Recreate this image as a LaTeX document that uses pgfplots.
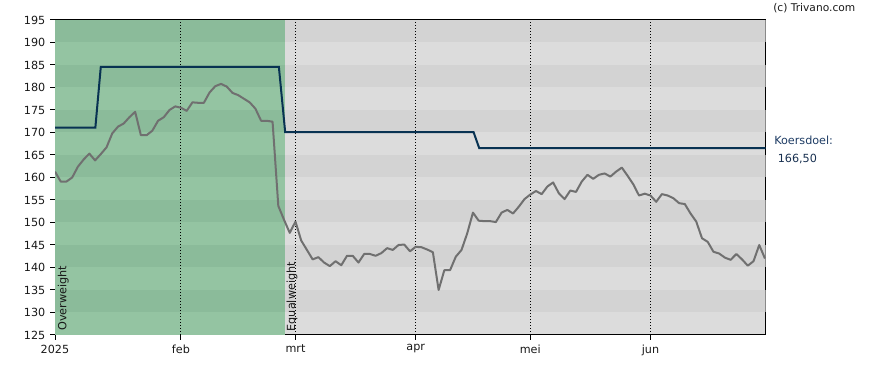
\documentclass[border=0pt]{standalone}
\usepackage{pgfplots}
\pgfplotsset{compat=1.18}
\usepackage{fontspec}
\setmainfont{DejaVu Sans}
\definecolor{gdark}{RGB}{139,187,154}
\definecolor{glight}{RGB}{148,196,162}
\definecolor{sdark}{RGB}{211,211,211}
\definecolor{slight}{RGB}{220,220,220}
\definecolor{navy}{RGB}{8,50,82}
\definecolor{pricec}{RGB}{112,112,112}
\definecolor{kd}{RGB}{30,60,100}
\pgfplotstableread{
d v
0 161.3
1 159.1
2 159.1
3 160.0
4 162.4
5 164.0
6 165.3
7 163.8
8 165.2
9 166.7
10 169.8
11 171.3
12 172.0
13 173.4
14 174.6
15 169.4
16 169.4
17 170.4
18 172.6
19 173.4
20 175.0
21 175.8
22 175.5
23 174.8
24 176.7
25 176.6
26 176.6
27 178.9
28 180.3
29 180.8
30 180.2
31 178.8
32 178.3
33 177.5
34 176.7
35 175.3
36 172.6
37 172.6
38 172.4
39 153.7
40 150.6
41 147.7
42 150.2
43 146.0
44 143.9
45 141.8
46 142.3
47 141.1
48 140.3
49 141.4
50 140.5
51 142.6
52 142.6
53 141.1
54 143.0
55 143.0
56 142.6
57 143.2
58 144.3
59 143.9
60 145.0
61 145.1
62 143.6
63 144.6
64 144.5
65 144.0
66 143.4
67 135.0
68 139.4
69 139.4
70 142.4
71 143.9
72 147.6
73 152.2
74 150.4
75 150.3
76 150.3
77 150.1
78 152.2
79 152.8
80 152.0
81 153.5
82 155.2
83 156.2
84 157.0
85 156.3
86 158.0
87 158.9
88 156.5
89 155.2
90 157.1
91 156.8
92 159.1
93 160.6
94 159.7
95 160.6
96 160.9
97 160.2
98 161.3
99 162.2
100 160.4
101 158.5
102 156.0
103 156.4
104 156.0
105 154.6
106 156.3
107 156.0
108 155.4
109 154.3
110 154.1
111 152.0
112 150.2
113 146.5
114 145.7
115 143.5
116 143.1
117 142.2
118 141.7
119 143.0
120 141.8
121 140.4
122 141.4
123 145.0
124 142.0
}\pricedata
\pgfplotstableread{
d v
0 171.1
7.05 171.1
8.0 184.6
39.1 184.6
40.2 170.1
73.1 170.1
74.1 166.5
124.1 166.5
}\targetdata
\begin{document}
\begin{tikzpicture}
\useasboundingbox (-41.25pt,-26.25pt) rectangle (624.75pt,251.25pt);
\begin{axis}[
  scale only axis, width=532.9pt, height=236.25pt,
  xmin=0, xmax=124.1, ymin=125, ymax=195,
  xtick={0,22,42,63,83,104}, xticklabels={2025,feb,mrt,apr,mei,jun},
  ytick={125,130,...,195},
  xtick pos=bottom, ytick pos=left,
  tick align=outside, major tick length=3.75pt,
  tick style={black, line width=0.75pt},
  axis line style={black, line width=0.75pt},
  ticklabel style={font=\fontsize{8.4}{10}\selectfont, text=black!90},
  /pgf/number format/assume math mode=true,
  axis background/.style={fill=slight},
]
\fill[glight] (axis cs:0,125) rectangle (axis cs:40.1,195);
\fill[gdark] (axis cs:0,130) rectangle (axis cs:40.1,135);
\fill[gdark] (axis cs:0,140) rectangle (axis cs:40.1,145);
\fill[gdark] (axis cs:0,150) rectangle (axis cs:40.1,155);
\fill[gdark] (axis cs:0,160) rectangle (axis cs:40.1,165);
\fill[gdark] (axis cs:0,170) rectangle (axis cs:40.1,175);
\fill[gdark] (axis cs:0,180) rectangle (axis cs:40.1,185);
\fill[gdark] (axis cs:0,190) rectangle (axis cs:40.1,195);
\fill[sdark] (axis cs:40.1,130) rectangle (axis cs:124.1,135);
\fill[sdark] (axis cs:40.1,140) rectangle (axis cs:124.1,145);
\fill[sdark] (axis cs:40.1,150) rectangle (axis cs:124.1,155);
\fill[sdark] (axis cs:40.1,160) rectangle (axis cs:124.1,165);
\fill[sdark] (axis cs:40.1,170) rectangle (axis cs:124.1,175);
\fill[sdark] (axis cs:40.1,180) rectangle (axis cs:124.1,185);
\fill[sdark] (axis cs:40.1,190) rectangle (axis cs:124.1,195);
\draw[black, line width=0.75pt, dash pattern=on 0.75pt off 1.5pt] (axis cs:22,125) -- (axis cs:22,195);
\draw[black, line width=0.75pt, dash pattern=on 0.75pt off 1.5pt] (axis cs:42,125) -- (axis cs:42,195);
\draw[black, line width=0.75pt, dash pattern=on 0.75pt off 1.5pt] (axis cs:63,125) -- (axis cs:63,195);
\draw[black, line width=0.75pt, dash pattern=on 0.75pt off 1.5pt] (axis cs:83,125) -- (axis cs:83,195);
\draw[black, line width=0.75pt, dash pattern=on 0.75pt off 1.5pt] (axis cs:104,125) -- (axis cs:104,195);
\addplot[pricec, line width=1.5pt, mark=none, line join=round] table[x=d,y=v] {\pricedata};
\addplot[navy, line width=1.5pt, mark=none] table[x=d,y=v] {\targetdata};
\end{axis}
\node[anchor=base west, rotate=90, font=\fontsize{8.4}{10}\selectfont, text=black!90, inner sep=0pt] at (8.6pt,3pt) {Overweight};
\node[anchor=base west, rotate=90, font=\fontsize{8.4}{10}\selectfont, text=black!90, inner sep=0pt] at (180pt,2.6pt) {Equalweight};
\node[anchor=base west, font=\fontsize{8.4}{10}\selectfont, text=kd, inner sep=0pt] at (539.25pt,142.5pt) {Koersdoel:};
\node[anchor=base west, font=\fontsize{8.4}{10}\selectfont, text=kd!80!black, inner sep=0pt] at (541.9pt,129pt) {166,50};
\node[anchor=base west, font=\fontsize{8}{10}\selectfont, text=black!90, inner sep=0pt] at (538.5pt,242.25pt) {(c) Trivano.com};
\end{tikzpicture}
\end{document}
